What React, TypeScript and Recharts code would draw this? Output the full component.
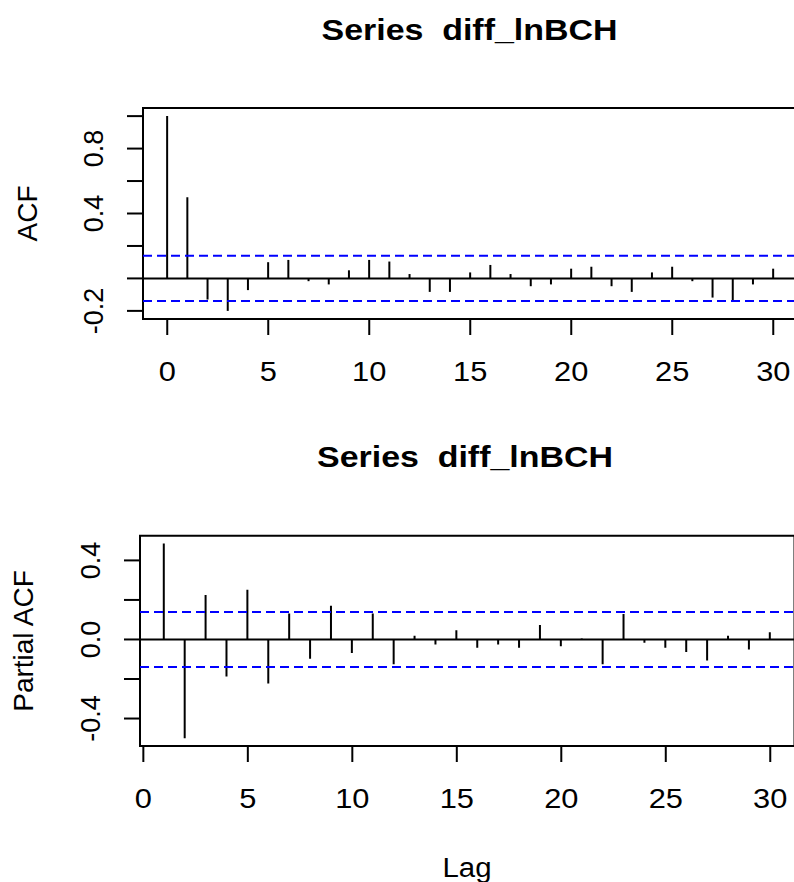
import React from 'react';
import { ComposedChart, Bar, XAxis, YAxis, ReferenceLine, ReferenceArea } from 'recharts';

const acfLags = [0, 1, 2, 3, 4, 5, 6, 7, 8, 9, 10, 11, 12, 13, 14, 15, 16, 17, 18, 19, 20, 21, 22, 23, 24, 25, 26, 27, 28, 29, 30];
const acfValues = [1.0, 0.5, -0.13, -0.2, -0.072, 0.1, 0.114, -0.017, -0.037, 0.05, 0.114, 0.104, 0.027, -0.083, -0.083, 0.037, 0.083, 0.027, -0.048, -0.037, 0.06, 0.072, -0.048, -0.083, 0.037, 0.072, -0.017, -0.118, -0.139, -0.037, 0.06];

const pacfLags = [1, 2, 3, 4, 5, 6, 7, 8, 9, 10, 11, 12, 13, 14, 15, 16, 17, 18, 19, 20, 21, 22, 23, 24, 25, 26, 27, 28, 29, 30];
const pacfValues = [0.486, -0.5, 0.225, -0.188, 0.252, -0.223, 0.132, -0.098, 0.171, -0.069, 0.132, -0.125, 0.019, -0.025, 0.047, -0.042, -0.025, -0.042, 0.073, -0.034, 0.005, -0.125, 0.129, -0.017, -0.042, -0.063, -0.107, 0.019, -0.051, 0.037];

const ciBound = 0.139;

const xTicks = [0, 5, 10, 15, 20, 25, 30];
const acfYTicks = [-0.2, 0, 0.2, 0.4, 0.6, 0.8, 1.0];
const acfYLabels = [-0.2, 0.4, 0.8];
const pacfYTicks = [-0.4, -0.2, 0, 0.2, 0.4];
const pacfYLabels = [-0.4, 0, 0.4];

const titleText = 'Series  diff_lnBCH';
const acfYLabel = 'ACF';
const pacfYLabel = 'Partial ACF';
const xLabel = 'Lag';

const acfData = acfLags.map((lag, i) => ({ lag, v: acfValues[i] }));
const pacfData = pacfLags.map((lag, i) => ({ lag, v: pacfValues[i] }));

const FONT = "'Liberation Sans', Arial, sans-serif";

const makeYTick = (shown: number[]) => (props: any) => {
  const { x, y, payload } = props;
  const v = payload.value as number;
  if (!shown.some((s) => Math.abs(s - v) < 1e-9)) return <g />;
  const bx = x - 24;
  return (
    <text
      x={bx}
      y={y}
      transform={`rotate(-90 ${bx} ${y})`}
      textAnchor="middle"
      fontSize={27}
      fontFamily={FONT}
      fill="#000"
    >
      {v.toFixed(1)}
    </text>
  );
};

const XTick = (props: any) => {
  const { x, y, payload } = props;
  return (
    <text
      x={x}
      y={y + 46}
      textAnchor="middle"
      fontSize={28}
      fontFamily={FONT}
      fill="#000"
      transform={`translate(${x} 0) scale(1.1 1) translate(${-x} 0)`}
    >
      {payload.value}
    </text>
  );
};

const acfYTick = makeYTick(acfYLabels);
const pacfYTick = makeYTick(pacfYLabels);

export default function App() {
  const acfX: [number, number] = [-1.2, 31.2];
  const acfY: [number, number] = [-0.25, 1.05];
  const pacfX: [number, number] = [-0.16, 31.16];
  const pacfY: [number, number] = [-0.539, 0.525];
  return (
    <div style={{ position: 'absolute', left: 0, top: 0, width: 794, height: 882, overflow: 'hidden', background: '#fff' }}>
      <div style={{ position: 'absolute', left: 0, top: 0 }}>
        <ComposedChart width={830} height={400} data={acfData} margin={{ top: 108, right: 32.5, bottom: 21, left: 83 }}>
          <XAxis
            dataKey="lag"
            type="number"
            domain={acfX}
            allowDataOverflow
            ticks={xTicks}
            interval={0}
            tickSize={16}
            tickMargin={0}
            height={60}
            axisLine={false}
            tickLine={{ stroke: '#000', strokeWidth: 2 }}
            tick={XTick}
          />
          <YAxis
            type="number"
            domain={acfY}
            allowDataOverflow
            ticks={acfYTicks}
            interval={0}
            tickSize={16}
            tickMargin={0}
            width={60}
            axisLine={false}
            tickLine={{ stroke: '#000', strokeWidth: 2 }}
            tick={acfYTick}
          />
          <ReferenceLine y={0} stroke="#000" strokeWidth={2} />
          <ReferenceLine y={ciBound} stroke="#0000ff" strokeWidth={2} strokeDasharray="9 5" />
          <ReferenceLine y={-ciBound} stroke="#0000ff" strokeWidth={2} strokeDasharray="9 5" />
          <Bar dataKey="v" barSize={2} fill="#000" isAnimationActive={false} />
          <ReferenceArea x1={acfX[0]} x2={acfX[1]} y1={acfY[0]} y2={acfY[1]} fill="none" fillOpacity={0} stroke="#000" strokeWidth={2} strokeOpacity={1} />
        </ComposedChart>
      </div>
      <div style={{ position: 'absolute', left: 0, top: 420 }}>
        <ComposedChart width={830} height={400} data={pacfData} margin={{ top: 115.7, right: 35.5, bottom: 14, left: 80 }}>
          <XAxis
            dataKey="lag"
            type="number"
            domain={pacfX}
            allowDataOverflow
            ticks={xTicks}
            interval={0}
            tickSize={16}
            tickMargin={0}
            height={60}
            axisLine={false}
            tickLine={{ stroke: '#000', strokeWidth: 2 }}
            tick={XTick}
          />
          <YAxis
            type="number"
            domain={pacfY}
            allowDataOverflow
            ticks={pacfYTicks}
            interval={0}
            tickSize={16}
            tickMargin={0}
            width={60}
            axisLine={false}
            tickLine={{ stroke: '#000', strokeWidth: 2 }}
            tick={pacfYTick}
          />
          <ReferenceLine y={0} stroke="#000" strokeWidth={2} />
          <ReferenceLine y={ciBound} stroke="#0000ff" strokeWidth={2} strokeDasharray="9 5" />
          <ReferenceLine y={-ciBound} stroke="#0000ff" strokeWidth={2} strokeDasharray="9 5" />
          <Bar dataKey="v" barSize={2} fill="#000" isAnimationActive={false} />
          <ReferenceArea x1={pacfX[0]} x2={pacfX[1]} y1={pacfY[0]} y2={pacfY[1]} fill="none" fillOpacity={0} stroke="#000" strokeWidth={2} strokeOpacity={1} />
        </ComposedChart>
      </div>
      <svg width={794} height={882} style={{ position: 'absolute', left: 0, top: 0, pointerEvents: 'none' }}>
        <text x={469.5} y={40} textAnchor="middle" fontSize={29} fontWeight="bold" fontFamily={FONT} textLength={296} lengthAdjust="spacingAndGlyphs" style={{ whiteSpace: 'pre' }} fill="#000">
          {titleText}
        </text>
        <text x={465} y={467} textAnchor="middle" fontSize={29} fontWeight="bold" fontFamily={FONT} textLength={296} lengthAdjust="spacingAndGlyphs" style={{ whiteSpace: 'pre' }} fill="#000">
          {titleText}
        </text>
        <text x={37} y={213.5} transform="rotate(-90 37 213.5)" textAnchor="middle" fontSize={28} fontFamily={FONT} fill="#000">
          {acfYLabel}
        </text>
        <text x={33.3} y={641} transform="rotate(-90 33.3 641)" textAnchor="middle" fontSize={28} fontFamily={FONT} fill="#000">
          {pacfYLabel}
        </text>
        <text x={467} y={877} textAnchor="middle" fontSize={28} fontFamily={FONT} fill="#000" transform="translate(467 0) scale(1.05 1) translate(-467 0)">
          {xLabel}
        </text>
      </svg>
    </div>
  );
}
